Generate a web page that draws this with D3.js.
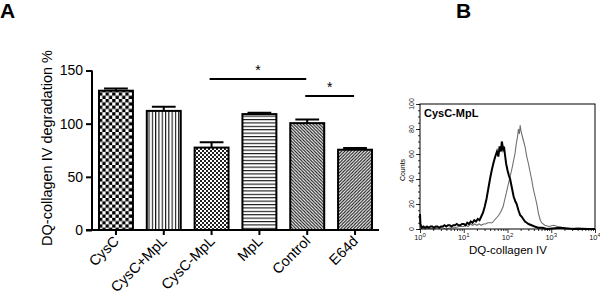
<!DOCTYPE html>
<html>
<head>
<meta charset="utf-8">
<script src="https://cdn.jsdelivr.net/npm/d3@7"></script>
<style>
  body { margin: 0; background: #fff; }
  svg { display: block; font-family: Arial, "Liberation Sans", sans-serif; }
</style>
</head>
<body>
<svg id="chart" width="600" height="294"></svg>
<script>
// ---------- Panel A data ----------
const categories = ["CysC", "CysC+MpL", "CysC-MpL", "MpL", "Control", "E64d"];
const values = [131, 112, 77.5, 109, 100.5, 75.5];
const errors = [2, 4, 5, 1.2, 3.5, 1.5];
const patterns = ["checker", "vlines", "finechecker", "hlines", "diagback", "diagfwd"];
const yTicks = [0, 50, 100, 150];
const sigFrom = ["CysC-MpL", "Control"];
const sigTo = ["Control", "E64d"];
const sigLevel = [142, 126];
const sigLabels = ["*", "*"];

// ---------- Panel B data (log10 of DQ-collagen IV intensity, counts) ----------
const blackDecades = [0.0,0.01,0.04,0.08,0.12,0.16,0.2,0.24,0.28,0.32,0.36,0.4,0.44,0.48,0.52,0.56,0.6,0.64,0.68,0.72,0.76,0.8,0.84,0.88,0.92,0.96,1.0,1.04,1.08,1.12,1.16,1.2,1.24,1.28,1.32,1.36,1.4,1.44,1.48,1.52,1.56,1.6,1.64,1.68,1.72,1.76,1.79,1.82,1.85,1.87,1.9,1.92,1.94,1.97,2.0,2.03,2.06,2.1,2.14,2.18,2.21,2.25,2.29,2.32,2.36,2.4,2.44,2.48,2.55,2.62,2.7,2.8,2.9,3.2,3.5,4.0];
const blackCounts  = [12,4,1,2,1,2,1,2,2,1,2,2,1,2,2,3,2,3,3,2,3,3,4,3,3,4,4,3,5,4,6,5,7,6,8,7,10,13,18,24,32,40,47,53,58,62,58,66,62,70,64,66,60,52,47,43,40,33,26,22,20,15,11,10,8,6,5,4,3,2,1,1,0,1,0,0];
const grayDecades = [0.0,0.05,0.1,0.2,0.3,0.4,0.5,0.6,0.7,0.8,0.9,1.0,1.05,1.1,1.15,1.2,1.25,1.3,1.35,1.4,1.45,1.5,1.55,1.6,1.65,1.7,1.75,1.8,1.85,1.9,1.94,1.98,2.02,2.06,2.1,2.14,2.17,2.2,2.23,2.25,2.27,2.29,2.31,2.34,2.37,2.4,2.44,2.48,2.52,2.55,2.59,2.63,2.67,2.71,2.75,2.78,2.85,2.95,3.05,3.15,3.27,3.35,3.6,4.0];
const grayCounts  = [2,1,0,1,0,1,1,0,1,1,2,2,3,2,4,3,4,3,4,3,4,4,5,5,5,7,9,11,14,18,24,30,36,42,48,55,60,68,74,80,76,83,78,74,70,66,58,52,45,40,32,26,20,12,7,5,3,2,3,2,1,0,1,0];
const countTicks = [0, 20, 40, 60, 80, 100];
const decadeTicks = [0, 1, 2, 3, 4];

const svg = d3.select("#chart");
const defs = svg.append("defs");

// ---------- patterns ----------
function pat(id, size) {
  const p = defs.append("pattern").attr("id", id).attr("patternUnits", "userSpaceOnUse")
    .attr("width", size).attr("height", size);
  p.append("rect").attr("width", size).attr("height", size).attr("fill", "#fff");
  return p;
}
let p = pat("checker", 6.6);
p.append("rect").attr("width", 3.3).attr("height", 3.3).attr("fill", "#000");
p.append("rect").attr("x", 3.3).attr("y", 3.3).attr("width", 3.3).attr("height", 3.3).attr("fill", "#000");
p = pat("finechecker", 4);
p.append("rect").attr("width", 2).attr("height", 2).attr("fill", "#222");
p.append("rect").attr("x", 2).attr("y", 2).attr("width", 2).attr("height", 2).attr("fill", "#222");
p = pat("vlines", 3.3);
p.append("rect").attr("width", 1.1).attr("height", 3.3).attr("fill", "#111");
p = pat("hlines", 3.4);
p.append("rect").attr("width", 3.4).attr("height", 1.1).attr("fill", "#111");
p = pat("diagback", 3.2);
p.append("path").attr("d", "M-1,-1L4.2,4.2M-1,2.2L1,4.2M2.2,-1L4.2,1").attr("stroke", "#111").attr("stroke-width", 1.1);
p = pat("diagfwd", 3.2);
p.append("path").attr("d", "M-1,4.2L4.2,-1M-1,1L1,-1M2.2,4.2L4.2,2.2").attr("stroke", "#111").attr("stroke-width", 1.1);

// ---------- Panel A ----------
const x = d3.scaleBand().domain(categories).range([92, 379]).paddingInner(0.29).paddingOuter(0.146);
const y = d3.scaleLinear().domain([0, 150]).range([230, 70.5]);

const gA = svg.append("g");

gA.selectAll("rect.bar").data(categories).join("rect").attr("class", "bar")
  .attr("x", d => x(d)).attr("width", x.bandwidth())
  .attr("y", (d, i) => y(values[i])).attr("height", (d, i) => y(0) - y(values[i]))
  .attr("fill", (d, i) => `url(#${patterns[i]})`).attr("stroke", "#000").attr("stroke-width", 2);

// error bars
const capW = x.bandwidth() * 0.7;
gA.selectAll("path.err").data(categories).join("path").attr("class", "err")
  .attr("d", (d, i) => {
    const cx = x(d) + x.bandwidth() / 2, y0 = y(values[i]), y1 = y(values[i] + errors[i]);
    return `M${cx},${y0}V${y1}M${cx - capW / 2},${y1}H${cx + capW / 2}`;
  })
  .attr("stroke", "#000").attr("stroke-width", 2).attr("fill", "none");

// axes
const yAxis = gA.append("g").attr("transform", "translate(92,0)")
  .call(d3.axisLeft(y).tickValues(yTicks).tickSize(6).tickSizeOuter(0).tickPadding(3));
const xAxis = gA.append("g").attr("transform", `translate(0,${y(0)})`)
  .call(d3.axisBottom(x).tickSize(5).tickSizeOuter(0).tickFormat(""));
[yAxis, xAxis].forEach(a => {
  a.selectAll("path, line").attr("stroke", "#000").attr("stroke-width", 2);
  a.selectAll("text").attr("font-size", 14).attr("fill", "#000").attr("font-family", "Arial, 'Liberation Sans', sans-serif");
});
yAxis.select(".domain").attr("d", `M0,${y(0) + 1}V${y(150)}`);
xAxis.select(".domain").attr("d", "M86,0H379");

// rotated category labels
gA.selectAll("text.xl").data(categories).join("text").attr("class", "xl")
  .attr("text-anchor", "end").attr("font-size", 14.5).attr("fill", "#000")
  .attr("transform", d => `translate(${x(d) + x.bandwidth() / 2 + 4},${y(0) + 12}) rotate(-45)`)
  .text(d => d);

// y label
gA.append("text").attr("transform", "translate(52,148) rotate(-90)")
  .attr("text-anchor", "middle").attr("font-size", 14.5).text("DQ-collagen IV degradation %");

// significance
sigFrom.forEach((f, i) => {
  const x1 = x(f) + x.bandwidth() / 2 - 2;
  const x2 = x(sigTo[i]) + x.bandwidth() / 2 - 1;
  gA.append("line").attr("x1", x1).attr("x2", x2).attr("y1", y(sigLevel[i])).attr("y2", y(sigLevel[i]))
    .attr("stroke", "#000").attr("stroke-width", 2);
  gA.append("text").attr("x", (x1 + x2) / 2).attr("y", y(sigLevel[i]) - 4)
    .attr("text-anchor", "middle").attr("font-size", 14).text(sigLabels[i]);
});

svg.append("text").attr("x", 0).attr("y", 18).attr("font-size", 21).attr("font-weight", "bold").text("A");
svg.append("text").attr("x", 456).attr("y", 18).attr("font-size", 21).attr("font-weight", "bold").text("B");

// ---------- Panel B ----------
const hx = d3.scaleLinear().domain([0, 4]).range([420, 595]);
const hy = d3.scaleLinear().domain([0, 100]).range([229, 104]);
const gB = svg.append("g");

const line = d3.line().x(d => hx(d[0])).y(d => hy(d[1]));
gB.append("path").datum(grayDecades.map((d, i) => [d, grayCounts[i]]))
  .attr("d", line).attr("fill", "none").attr("stroke", "#6e6e6e").attr("stroke-width", 1.1);
gB.append("path").datum(blackDecades.map((d, i) => [d, blackCounts[i]]))
  .attr("d", line).attr("fill", "none").attr("stroke", "#000").attr("stroke-width", 2);

gB.append("rect").attr("x", 420).attr("y", 104).attr("width", 175).attr("height", 125)
  .attr("fill", "none").attr("stroke", "#000").attr("stroke-width", 1);

// x ticks (log decades with minor ticks)
const minor = [];
decadeTicks.slice(0, -1).forEach(d => { for (let k = 2; k <= 9; k++) minor.push(d + Math.log10(k)); });
gB.append("g").attr("transform", "translate(0,229)")
  .call(d3.axisBottom(hx).tickValues(minor).tickSize(2).tickFormat(""))
  .call(g => g.select(".domain").remove())
  .selectAll("line").attr("stroke-width", 0.8);
const xb = gB.append("g").attr("transform", "translate(0,229)")
  .call(d3.axisBottom(hx).tickValues(decadeTicks).tickSize(4).tickFormat(""))
  .call(g => g.select(".domain").remove());
xb.selectAll("line").attr("stroke-width", 0.8);
decadeTicks.forEach(d => {
  const t = gB.append("text").attr("x", hx(d)).attr("y", 240).attr("text-anchor", "middle")
    .attr("font-size", 7.5).attr("fill", "#222");
  t.append("tspan").text("10");
  t.append("tspan").attr("dy", -3).attr("font-size", 6).text(d);
});
gB.append("text").attr("x", 508).attr("y", 254).attr("text-anchor", "middle").attr("font-size", 11.5)
  .text("DQ-collagen IV");

// y ticks
const minorY = d3.range(0, 101, 5);
gB.append("g").attr("transform", "translate(420,0)")
  .call(d3.axisLeft(hy).tickValues(minorY).tickSize(2).tickFormat(""))
  .call(g => g.select(".domain").remove())
  .selectAll("line").attr("stroke-width", 0.8);
gB.append("g").attr("transform", "translate(420,0)")
  .call(d3.axisLeft(hy).tickValues(countTicks).tickSize(4).tickFormat(""))
  .call(g => g.select(".domain").remove())
  .selectAll("line").attr("stroke-width", 0.8);
countTicks.forEach(c => {
  gB.append("text").attr("transform", `translate(414,${hy(c)}) rotate(-90)`)
    .attr("text-anchor", "middle").attr("font-size", 7).attr("fill", "#222").text(c);
});
gB.append("text").attr("transform", "translate(405,170) rotate(-90)")
  .attr("text-anchor", "middle").attr("font-size", 7).text("Counts");
gB.append("text").attr("x", 424).attr("y", 117).attr("font-size", 11).attr("font-weight", "bold").text("CysC-MpL");
</script>
</body>
</html>
